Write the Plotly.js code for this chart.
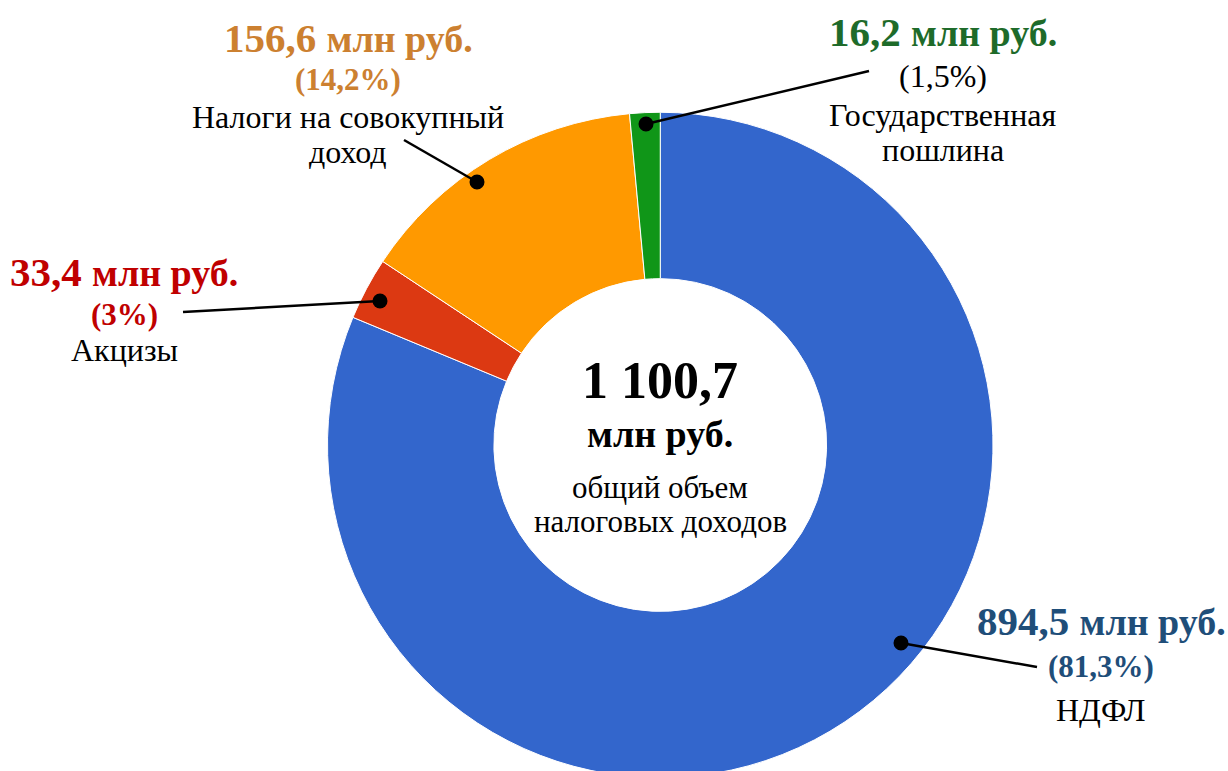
<!DOCTYPE html>
<html>
<head>
<meta charset="utf-8">
<script src="https://cdn.plot.ly/plotly-3.0.1.min.js"></script>
<style>
html,body{margin:0;padding:0;overflow:hidden;background:#fff;}
#chart{width:1228px;height:800px;}
</style>
</head>
<body>
<div id="chart"></div>
<script>
// ---- data ----
const categories = ['НДФЛ', 'Акцизы', 'Налоги на совокупный доход', 'Государственная пошлина'];
const values = [894.5, 33.4, 156.6, 16.2];
const percentLabels = ['81,3', '3', '14,2', '1,5'];
const nameLines = [['НДФЛ'], ['Акцизы'], ['Налоги на совокупный', 'доход'], ['Государственная', 'пошлина']];
const unitLabel = 'млн руб.';
const centerCaption = ['общий объем', 'налоговых доходов'];

// ---- styles ----
const sliceColors = ['#3366CC', '#DC3912', '#FF9900', '#109618'];
const labelColors = ['#1F4E79', '#C00000', '#CC8030', '#1E6B2A'];
const pctBold = [true, true, true, false];
const pctColors = ['#1F4E79', '#C00000', '#CC8030', '#000000'];

// label block layout (pixel positions of line centres)
const W = 1228, H = 800;
const labelX = [1101, 124, 348, 943];
const valueY = [621, 272, 38, 32];
const pctY = [666, 314, 80, 76];
const nameY = [[710], [350], [117, 152], [115, 150]];
// leader lines: [dotX, dotY, endX, endY]
const leaders = [[901, 643, 1037, 667], [380, 301, 183, 312], [477, 182, 404, 140], [646, 124, 869, 71]];

const FONT = '"Liberation Serif", "Times New Roman", serif';
const px = x => x / W;
const py = y => 1 - y / H;
const fmt = v => {
  const s = v.toFixed(1).split('.');
  return s[0].replace(/\B(?=(\d{3})+(?!\d))/g, ' ') + ',' + s[1];
};
const total = values.reduce((a, b) => a + b, 0);

const trace = {
  type: 'pie',
  labels: categories,
  values: values,
  sort: false,
  direction: 'clockwise',
  rotation: 0,
  hole: 0.5,
  textinfo: 'none',
  hoverinfo: 'label+value+percent',
  marker: {colors: sliceColors, line: {color: '#ffffff', width: 1}},
  domain: {x: [px(327.5), px(993)], y: [py(778), py(112)]},
  showlegend: false
};

const annotations = [];
const shapes = [];
categories.forEach((c, i) => {
  annotations.push({
    xref: 'paper', yref: 'paper', x: px(labelX[i]), y: py(valueY[i]),
    xanchor: 'center', yanchor: 'middle', showarrow: false,
    text: '<b>' + fmt(values[i]) + ' <span style="font-size:38px">' + unitLabel + '</span></b>',
    font: {family: FONT, size: 41, color: labelColors[i]}
  });
  const pctText = '(' + percentLabels[i] + '%)';
  annotations.push({
    xref: 'paper', yref: 'paper', x: px(labelX[i]), y: py(pctY[i]),
    xanchor: 'center', yanchor: 'middle', showarrow: false,
    text: pctBold[i] ? '<b>' + pctText + '</b>' : pctText,
    font: {family: FONT, size: pctBold[i] ? 31 : 32, color: pctColors[i]}
  });
  nameLines[i].forEach((t, k) => {
    annotations.push({
      xref: 'paper', yref: 'paper', x: px(labelX[i]), y: py(nameY[i][k]),
      xanchor: 'center', yanchor: 'middle', showarrow: false,
      text: t, font: {family: FONT, size: 32, color: '#000000'}
    });
  });
  const L = leaders[i];
  shapes.push({type: 'line', xref: 'paper', yref: 'paper', x0: px(L[0]), y0: py(L[1]), x1: px(L[2]), y1: py(L[3]),
    line: {color: '#000000', width: 2.5}});
  shapes.push({type: 'circle', xref: 'paper', yref: 'paper', xsizemode: 'pixel', ysizemode: 'pixel',
    xanchor: px(L[0]), yanchor: py(L[1]), x0: -7.5, x1: 7.5, y0: -7.5, y1: 7.5,
    fillcolor: '#000000', line: {color: '#000000', width: 0}});
});

// centre text
annotations.push({xref: 'paper', yref: 'paper', x: px(660), y: py(380), xanchor: 'center', yanchor: 'middle', showarrow: false,
  text: '<b>' + fmt(total) + '</b>', font: {family: FONT, size: 52, color: '#000000'}});
annotations.push({xref: 'paper', yref: 'paper', x: px(660), y: py(434), xanchor: 'center', yanchor: 'middle', showarrow: false,
  text: '<b>' + unitLabel + '</b>', font: {family: FONT, size: 38, color: '#000000'}});
centerCaption.forEach((t, k) => {
  annotations.push({xref: 'paper', yref: 'paper', x: px(660), y: py(487 + 34 * k), xanchor: 'center', yanchor: 'middle', showarrow: false,
    text: t, font: {family: FONT, size: 31, color: '#000000'}});
});

const layout = {
  width: W, height: H,
  margin: {l: 0, r: 0, t: 0, b: 0},
  paper_bgcolor: '#ffffff', plot_bgcolor: '#ffffff',
  annotations: annotations,
  shapes: shapes,
  font: {family: FONT}
};

Plotly.newPlot('chart', [trace], layout, {displayModeBar: false, staticPlot: true});
</script>
</body>
</html>
